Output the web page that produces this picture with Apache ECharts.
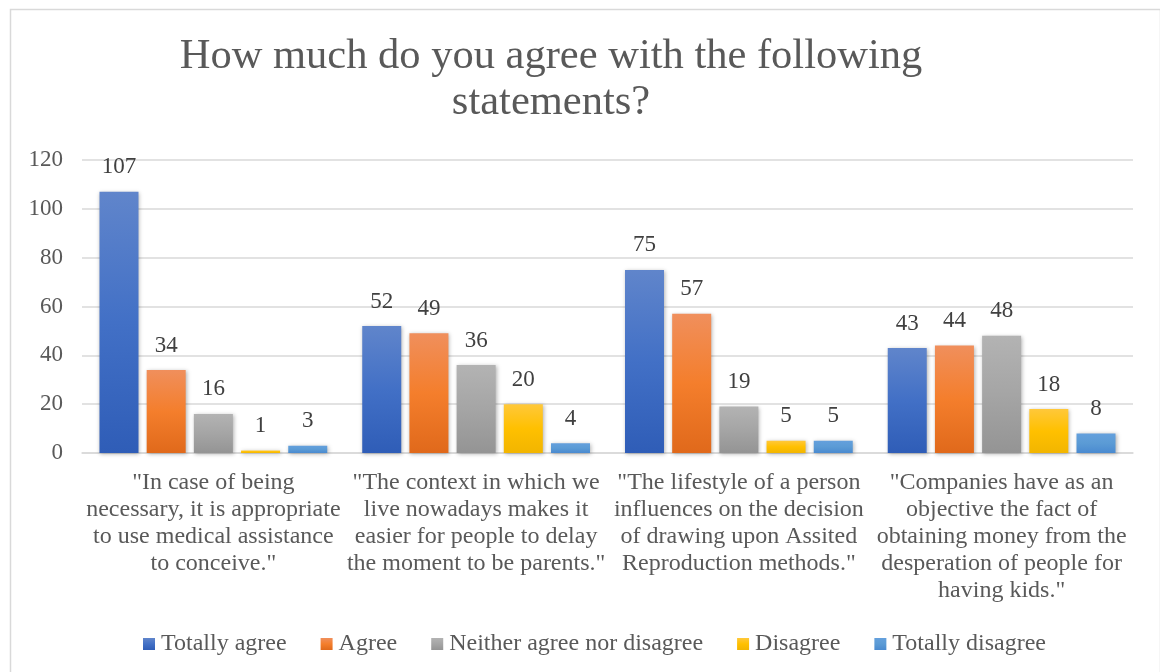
<!DOCTYPE html>
<html>
<head>
<meta charset="utf-8">
<script src="https://cdn.jsdelivr.net/npm/echarts@6/dist/echarts.min.js"></script>
<style>
  html, body { margin: 0; padding: 0; background: #ffffff; }
  #chart { width: 1160px; height: 672px; }
</style>
</head>
<body>
<div id="chart"></div>
<script>
// Survey statements (line breaks follow the printed wrapping)
const categories = [
  '"In case of being\nnecessary, it is appropriate\nto use medical assistance\nto conceive."',
  '"The context in which we\nlive nowadays makes it\neasier for people to delay\nthe moment to be parents."',
  '"The lifestyle of a person\ninfluences on the decision\nof drawing upon Assited\nReproduction methods."',
  '"Companies have as an\nobjective the fact of\nobtaining money from the\ndesperation of people for\nhaving kids."'
];

const seriesNames = ['Totally agree', 'Agree', 'Neither agree nor disagree', 'Disagree', 'Totally disagree'];

const totallyAgree    = [107, 52, 75, 43];
const agree           = [34, 49, 57, 44];
const neither         = [16, 36, 19, 48];
const disagree        = [1, 20, 5, 18];
const totallyDisagree = [3, 4, 5, 8];

const yTicks = [0, 20, 40, 60, 80, 100, 120];

const seriesValues = [totallyAgree, agree, neither, disagree, totallyDisagree];

// top / middle / bottom gradient stops per series
const palettes = [
  ['#6085cb', '#4270c6', '#2f5db7'],
  ['#f08f5c', '#f47e2c', '#e0691b'],
  ['#b3b3b3', '#a5a5a5', '#949494'],
  ['#ffc83a', '#ffc000', '#f2b500'],
  ['#64a0dd', '#5b9bd5', '#4a8ad0']
];

const serif = "'Liberation Serif', 'Times New Roman', serif";

function grad(p) {
  return new echarts.graphic.LinearGradient(0, 0, 0, 1, [
    { offset: 0, color: p[0] },
    { offset: 0.5, color: p[1] },
    { offset: 1, color: p[2] }
  ]);
}

const chart = echarts.init(document.getElementById('chart'), null, { renderer: 'canvas' });

chart.setOption({
  backgroundColor: '#ffffff',
  animation: false,
  graphic: [{
    type: 'rect',
    left: 8, top: 7,
    shape: { width: 1150, height: 680 },
    style: { fill: 'none', stroke: '#d9d9d9', lineWidth: 1.5 },
    silent: true
  }],
  title: {
    text: 'How much do you agree with the following\nstatements?',
    left: 546,
    top: 29,
    textAlign: 'center',
    textStyle: { fontFamily: serif, fontSize: 42.5, fontWeight: 'normal', color: '#595959', lineHeight: 46 }
  },
  legend: {
    bottom: 11,
    left: 138,
    itemWidth: 12,
    itemHeight: 12,
    itemGap: 34,
    icon: 'rect',
    textStyle: { fontFamily: serif, fontSize: 24, color: '#595959', padding: [0, 0, 0, 1] },
    data: seriesNames.map((n, i) => ({ name: n, itemStyle: { color: grad(palettes[i]) } }))
  },
  grid: { left: 82, right: 27, top: 160, height: 293, containLabel: false },
  xAxis: {
    type: 'category',
    data: categories,
    axisLine: { lineStyle: { color: '#d9d9d9', width: 1.5 } },
    axisTick: { show: false },
    axisLabel: {
      interval: 0, margin: 16, lineHeight: 27, align: 'center',
      fontFamily: serif, fontSize: 24, color: '#595959'
    }
  },
  yAxis: {
    type: 'value',
    min: yTicks[0],
    max: yTicks[yTicks.length - 1],
    interval: 20,
    axisLine: { show: false },
    axisTick: { show: false },
    axisLabel: { margin: 19, fontFamily: serif, fontSize: 23, color: '#595959' },
    splitLine: { lineStyle: { color: '#d9d9d9', width: 1.5 } }
  },
  series: seriesNames.map((name, i) => ({
    name: name,
    type: 'bar',
    data: seriesValues[i],
    barWidth: 39,
    barGap: '21%',
    itemStyle: {
      color: grad(palettes[i]),
      shadowColor: 'rgba(0,0,0,0.3)',
      shadowBlur: 4,
      shadowOffsetX: 1,
      shadowOffsetY: 1
    },
    label: {
      show: true, position: 'top', distance: 13,
      fontFamily: serif, fontSize: 23, color: '#404040'
    }
  }))
});
</script>
</body>
</html>
